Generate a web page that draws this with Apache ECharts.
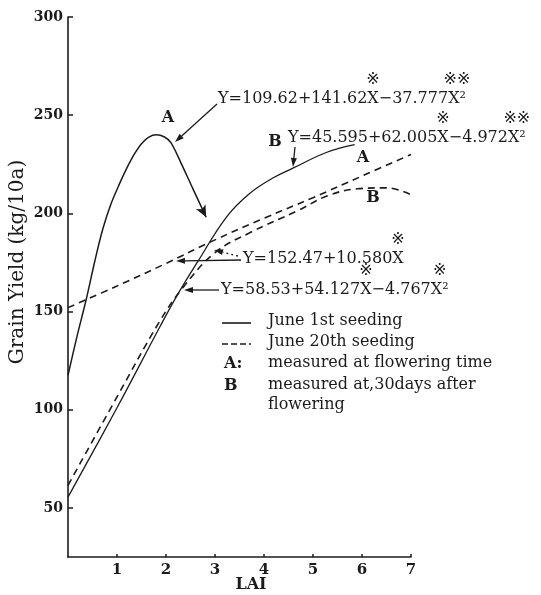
<!DOCTYPE html>
<html>
<head>
<meta charset="utf-8">
<title>Grain Yield vs LAI</title>
<script src="https://cdn.jsdelivr.net/npm/echarts@6/dist/echarts.min.js"></script>
<style>
  html, body { margin: 0; padding: 0; background: #fff; }
  #main { width: 541px; height: 595px; }
</style>
</head>
<body>
<div id="main"></div>
<script>
// 刻度
var xTicks = [1, 2, 3, 4, 5, 6, 7];
var yTicks = [50, 100, 150, 200, 250, 300];

// June 1st seeding, A: measured at flowering time
var june1A_x = [0, 0.18, 0.37, 0.55, 0.71, 0.88, 1.05, 1.2, 1.35, 1.5, 1.65, 1.8, 1.96, 2.1, 2.3, 2.55, 2.82];
var june1A_y = [117.5, 137, 156, 176, 192, 205, 215, 223, 230, 235.5, 238.8, 240, 239, 236, 226, 212.5, 198];

// June 1st seeding, B: 30 days after flowering
var june1B_x = [0, 1, 1.87, 2.21, 2.65, 3.23, 3.7, 4.18, 4.59, 5.27, 5.85];
var june1B_y = [55.5, 101, 142, 157.5, 175.5, 198, 210, 218, 223, 231, 235];

// June 20th seeding, A: measured at flowering time
var june20A_x = [0, 1, 2, 3, 4, 5, 6, 7];
var june20A_y = [152, 163, 174.5, 186.5, 197.5, 208, 219, 230];

// June 20th seeding, B: 30 days after flowering
var june20B_x = [0, 1, 1.87, 2.34, 3.0, 3.7, 4.7, 5.3, 5.9, 6.5, 7.0];
var june20B_y = [61.5, 106.5, 145, 162, 180, 190, 201.5, 209, 212.5, 213, 209.5];

(function () {
  var myChart = echarts.init(document.getElementById("main"));
  var ink = "#1b1b1b";
  var serif = "'DejaVu Serif', 'Liberation Serif', serif";
  var eqFont = "16px " + serif;
  var markFont = "16px 'DejaVu Sans', 'Noto Sans CJK JP', sans-serif";

  function pairs(xs, ys) {
    return xs.map(function (x, i) { return [x, ys[i]]; });
  }

  // 文字宽度, 用来放 ※ 标记
  var ctx = document.createElement("canvas").getContext("2d");
  function textW(s, font) {
    ctx.font = font;
    return ctx.measureText(s).width;
  }

  function text(x, y, s, font, align) {
    return {
      type: "text", x: x, y: y, silent: true,
      style: {
        text: s, font: font, fill: ink,
        textAlign: align || "left", textVerticalAlign: "middle",
        align: align || "left", verticalAlign: "middle"
      }
    };
  }

  function arrow(x1, y1, x2, y2, dash) {
    var a = Math.atan2(y2 - y1, x2 - x1);
    var L = 9, W = 3;
    var bx = x2 - L * Math.cos(a), by = y2 - L * Math.sin(a);
    return [
      {
        type: "line", silent: true,
        shape: { x1: x1, y1: y1, x2: bx, y2: by },
        style: { stroke: ink, lineWidth: 1.3, lineDash: dash || null }
      },
      {
        type: "polygon", silent: true,
        shape: { points: [[x2, y2], [bx + W * Math.sin(a), by - W * Math.cos(a)], [bx - W * Math.sin(a), by + W * Math.cos(a)]] },
        style: { fill: ink }
      }
    ];
  }

  // 方程 + ※
  function equation(x, y, s, marks) {
    var out = [text(x, y, s, eqFont)];
    marks.forEach(function (m) {
      var cx = x + textW(m[0], eqFont) + textW(m[1], eqFont) / 2;
      out.push(text(cx, y - 19, m[2], markFont, "center"));
    });
    return out;
  }

  var graphics = [];
  graphics = graphics.concat(
    // y轴标题
    [{
      type: "text", x: 18, y: 262, rotation: Math.PI / 2, silent: true,
      style: {
        text: "Grain Yield (kg/10a)", font: "20px " + serif, fill: ink,
        textAlign: "center", textVerticalAlign: "middle", align: "center", verticalAlign: "middle"
      }
    }],
    [text(251, 585, "LAI", "bold 16px " + serif, "center")],
    // 曲线标注
    [text(168, 118, "A", "bold 16px " + serif, "center")],
    arrow(217, 104, 175, 142),
    equation(218, 99, "Y=109.62+141.62X\u221237.777X\u00b2", [
      ["Y=109.62+141.62", "X", "\u203b"],
      ["Y=109.62+141.62X\u221237.777", "X\u00b2", "\u203b\u203b"]
    ]),
    [text(275, 142, "B", "bold 16px " + serif, "center")],
    arrow(295, 147, 293, 167),
    equation(288, 138, "Y=45.595+62.005X\u22124.972X\u00b2", [
      ["Y=45.595+62.005", "X", "\u203b"],
      ["Y=45.595+62.005X\u22124.972", "X\u00b2", "\u203b\u203b"]
    ]),
    [text(363, 158, "A", "bold 16px " + serif, "center")],
    [text(373, 198, "B", "bold 16px " + serif, "center")],
    arrow(241, 260, 176, 261),
    arrow(238, 256, 214, 250, [2, 3]),
    equation(243, 259, "Y=152.47+10.580X", [
      ["Y=152.47+10.580", "X", "\u203b"]
    ]),
    arrow(219, 290, 184, 290),
    equation(221, 290, "Y=58.53+54.127X\u22124.767X\u00b2", [
      ["Y=58.53+54.127", "X", "\u203b"],
      ["Y=58.53+54.127X\u22124.767", "X\u00b2", "\u203b"]
    ]),
    // 图例
    [
      { type: "line", silent: true, shape: { x1: 222, y1: 323, x2: 251, y2: 323 }, style: { stroke: ink, lineWidth: 1.6 } },
      { type: "line", silent: true, shape: { x1: 222, y1: 344, x2: 251, y2: 344 }, style: { stroke: ink, lineWidth: 1.6, lineDash: [6, 3] } },
      text(268, 321, "June 1st seeding", eqFont),
      text(268, 342, "June 20th seeding", eqFont),
      text(224, 364, "A:", "bold 16px " + serif),
      text(268, 363, "measured at flowering time", eqFont),
      text(224, 386, "B", "bold 16px " + serif),
      text(268, 385, "measured at,30days after", eqFont),
      text(268, 405, "flowering", eqFont)
    ]
  );

  var june1AData = pairs(june1A_x, june1A_y);
  var last = june1AData.length - 1;
  june1AData[last] = { value: june1AData[last], symbol: "arrow", symbolSize: [8, 12], symbolRotate: 207 };

  var option = {
    animation: false,
    backgroundColor: "#fff",
    grid: { left: 68, top: 17, width: 343, height: 540 },
    xAxis: {
      type: "value",
      min: 0,
      max: 7,
      axisLine: { lineStyle: { color: ink, width: 1.6 } },
      axisTick: { show: true, inside: true, length: 3, customValues: xTicks, lineStyle: { color: ink, width: 1.5 } },
      axisLabel: { customValues: xTicks, color: ink, fontFamily: serif, fontWeight: "bold", fontSize: 15, margin: 6 },
      splitLine: { show: false }
    },
    yAxis: {
      type: "value",
      min: 25,
      max: 300,
      axisLine: { show: true, lineStyle: { color: ink, width: 1.6 } },
      axisTick: { show: true, inside: true, length: 5, customValues: yTicks, lineStyle: { color: ink, width: 1.5 } },
      axisLabel: { customValues: yTicks, color: ink, fontFamily: serif, fontWeight: "bold", fontSize: 14, margin: 5 },
      splitLine: { show: false }
    },
    series: [
      {
        name: "June 1st A",
        type: "line",
        smooth: 0.3,
        symbol: "none",
        showSymbol: true,
        itemStyle: { color: ink },
        lineStyle: { color: ink, width: 1.5 },
        data: june1AData
      },
      {
        name: "June 1st B",
        type: "line",
        smooth: 0.4,
        symbol: "none",
        lineStyle: { color: ink, width: 1.3 },
        data: pairs(june1B_x, june1B_y)
      },
      {
        name: "June 20th A",
        type: "line",
        smooth: 0.4,
        symbol: "none",
        lineStyle: { color: ink, width: 1.6, type: [7, 5] },
        data: pairs(june20A_x, june20A_y)
      },
      {
        name: "June 20th B",
        type: "line",
        smooth: 0.4,
        symbol: "none",
        lineStyle: { color: ink, width: 1.6, type: [7, 5] },
        data: pairs(june20B_x, june20B_y)
      }
    ],
    graphic: { elements: graphics }
  };

  myChart.setOption(option);
  window.addEventListener("resize", function () {
    myChart.resize();
  });
})();
</script>
</body>
</html>
